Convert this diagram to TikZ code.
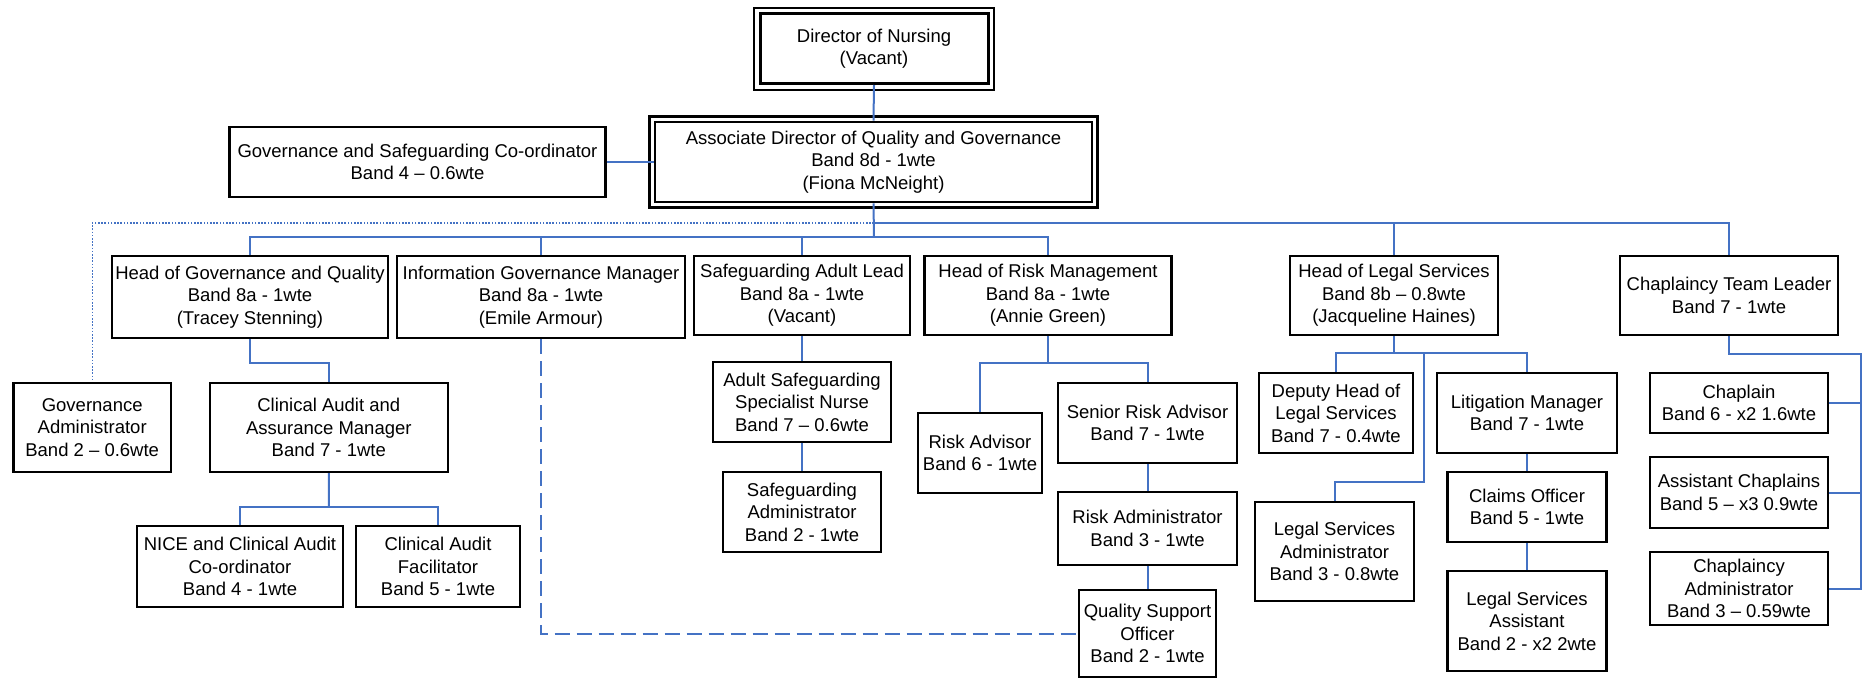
\documentclass[tikz,border=0pt]{standalone}
\usepackage{fontspec}
\setmainfont{Liberation Sans}
\definecolor{connblue}{RGB}{68,114,196}
\begin{document}
\begin{tikzpicture}[x=1pt,y=-1pt,
  box/.style={draw=black,line width=2.2pt,fill=white,rectangle,inner sep=0pt,align=center,
    font=\fontsize{18.5}{22.5}\selectfont},
  conn/.style={draw=connblue,line width=2pt},
  dotline/.style={draw=connblue,line width=1.4pt,dash pattern=on 1.6pt off 1.6pt},
  dashline/.style={draw=connblue,line width=2pt,dash pattern=on 15pt off 7pt}]
\useasboundingbox (0,0) rectangle (1865,683);
% nodes
\node[box,line width=3pt,minimum width=228pt,minimum height=70pt] (dir) at (874,48.5) {Director of Nursing\\(Vacant)};
\node[box,line width=2.8pt,minimum width=437pt,minimum height=80pt] (adq) at (873.5,162) {Associate Director of Quality and Governance\\Band 8d - 1wte\\(Fiona McNeight)};
\node[box,minimum width=376pt,minimum height=70pt] (gsc) at (417.5,162) {Governance and Safeguarding Co-ordinator\\Band 4 – 0.6wte};
\node[box,minimum width=276.5pt,minimum height=82pt] (hgq) at (250,297) {Head of Governance and Quality\\Band 8a - 1wte\\(Tracey Stenning)};
\node[box,minimum width=288pt,minimum height=82pt] (igm) at (541,297) {Information Governance Manager\\Band 8a - 1wte\\(Emile Armour)};
\node[box,minimum width=216.6pt,minimum height=79pt] (sal) at (802,295.5) {Safeguarding Adult Lead\\Band 8a - 1wte\\(Vacant)};
\node[box,minimum width=247pt,minimum height=79pt] (hrm) at (1048,295.5) {Head of Risk Management\\Band 8a - 1wte\\(Annie Green)};
\node[box,minimum width=207.5pt,minimum height=79pt] (hls) at (1394,295.5) {Head of Legal Services\\Band 8b – 0.8wte\\(Jacqueline Haines)};
\node[box,minimum width=218pt,minimum height=79pt] (ctl) at (1729,295.5) {Chaplaincy Team Leader\\Band 7 - 1wte};
\node[box,minimum width=157.6pt,minimum height=89pt] (gad) at (92.2,427.5) {Governance\\Administrator\\Band 2 – 0.6wte};
\node[box,minimum width=237.6pt,minimum height=89pt] (caa) at (328.8,427.5) {Clinical Audit and\\Assurance Manager\\Band 7 - 1wte};
\node[box,minimum width=206pt,minimum height=81pt] (nice) at (240,566.5) {NICE and Clinical Audit\\Co-ordinator\\Band 4 - 1wte};
\node[box,minimum width=164pt,minimum height=81pt] (caf) at (438,566.5) {Clinical Audit\\Facilitator\\Band 5 - 1wte};
\node[box,minimum width=178pt,minimum height=80pt] (assn) at (802,402) {Adult Safeguarding\\Specialist Nurse\\Band 7 – 0.6wte};
\node[box,minimum width=158pt,minimum height=80pt] (sadm) at (802,512) {Safeguarding\\Administrator\\Band 2 - 1wte};
\node[box,minimum width=124pt,minimum height=80pt] (ra) at (980,453) {Risk Advisor\\Band 6 - 1wte};
\node[box,minimum width=179pt,minimum height=80pt] (sra) at (1147.5,423) {Senior Risk Advisor\\Band 7 - 1wte};
\node[box,minimum width=179pt,minimum height=73pt] (radm) at (1147.5,528.5) {Risk Administrator\\Band 3 - 1wte};
\node[box,minimum width=137pt,minimum height=87pt] (qso) at (1147.5,633.5) {Quality Support\\Officer\\Band 2 - 1wte};
\node[box,minimum width=154pt,minimum height=80pt] (dhl) at (1336,413) {Deputy Head of\\Legal Services\\Band 7 - 0.4wte};
\node[box,minimum width=180pt,minimum height=80pt] (lm) at (1527,413) {Litigation Manager\\Band 7 - 1wte};
\node[box,minimum width=159pt,minimum height=70pt] (co) at (1527,507) {Claims Officer\\Band 5 - 1wte};
\node[box,minimum width=159pt,minimum height=100pt] (lsa) at (1527,621) {Legal Services\\Assistant\\Band 2 - x2 2wte};
\node[box,minimum width=159pt,minimum height=99pt] (lsadm) at (1334.5,551.5) {Legal Services\\Administrator\\Band 3 - 0.8wte};
\node[box,minimum width=177.5pt,minimum height=60pt] (chap) at (1739,403) {Chaplain\\Band 6 - x2 1.6wte};
\node[box,minimum width=177.5pt,minimum height=71pt] (ach) at (1739,492.5) {Assistant Chaplains\\Band 5 – x3 0.9wte};
\node[box,minimum width=177.5pt,minimum height=73pt] (cad) at (1739,588.5) {Chaplaincy\\Administrator\\Band 3 – 0.59wte};
% outer frames of double boxes
\draw[line width=2pt] ([shift={(-4.5,-4.5)}]dir.north west) rectangle ([shift={(4.5,4.5)}]dir.south east);
\draw[line width=2.5pt] ([shift={(-4,-4)}]adq.north west) rectangle ([shift={(4,4)}]adq.south east);
% junctions
\coordinate (b1) at (874,237);
\coordinate (b2) at (874,223);
\coordinate (j1) at (250,363);
\coordinate (j2) at (329,507);
\coordinate (j3) at (1048,363);
\coordinate (j4) at (1394,353);
\coordinate (j5) at (1424,482);
\coordinate (j6) at (1861,354);
% connectors
\draw[conn] (dir.south) -- (adq.north);
\draw[conn] (gsc.east) -- (adq.west);
\draw[conn] (adq.south) -- (b1);
\draw[conn] (hgq.north) -- (hgq.north |- b1) -- (hrm.north |- b1) -- (hrm.north);
\draw[conn] (igm.north) -- (igm.north |- b1);
\draw[conn] (sal.north) -- (sal.north |- b1);
\draw[conn] (hls.north) -- (hls.north |- b2);
\draw[conn] (b2) -- (b2 -| ctl.north) -- (ctl.north);
\draw[dotline] (b2) -- (b2 -| gad.north) -- (gad.north);
\draw[conn] (hgq.south) -- (hgq.south |- j1) -| (caa.north);
\draw[conn] (caa.south) -- (j2);
\draw[conn] (nice.north) |- (j2) -| (caf.north);
\draw[dashline] (igm.south) |- (qso.west);
\draw[conn] (sal.south) -- (assn.north);
\draw[conn] (assn.south) -- (sadm.north);
\draw[conn] (hrm.south) -- (j3);
\draw[conn] (ra.north) |- (j3) -| (sra.north);
\draw[conn] (sra.south) -- (radm.north);
\draw[conn] (radm.south) -- (qso.north);
\draw[conn] (hls.south) -- (j4);
\draw[conn] (dhl.north) |- (j4) -| (lm.north);
\draw[conn] (j5 |- j4) -- (j5) -| (lsadm.north);
\draw[conn] (lm.south) -- (co.north);
\draw[conn] (co.south) -- (lsa.north);
\draw[conn] (ctl.south) |- (j6) -- (j6 |- cad.east) -- (cad.east);
\draw[conn] (chap.east) -- (chap.east -| j6);
\draw[conn] (ach.east) -- (ach.east -| j6);
\end{tikzpicture}
\end{document}
